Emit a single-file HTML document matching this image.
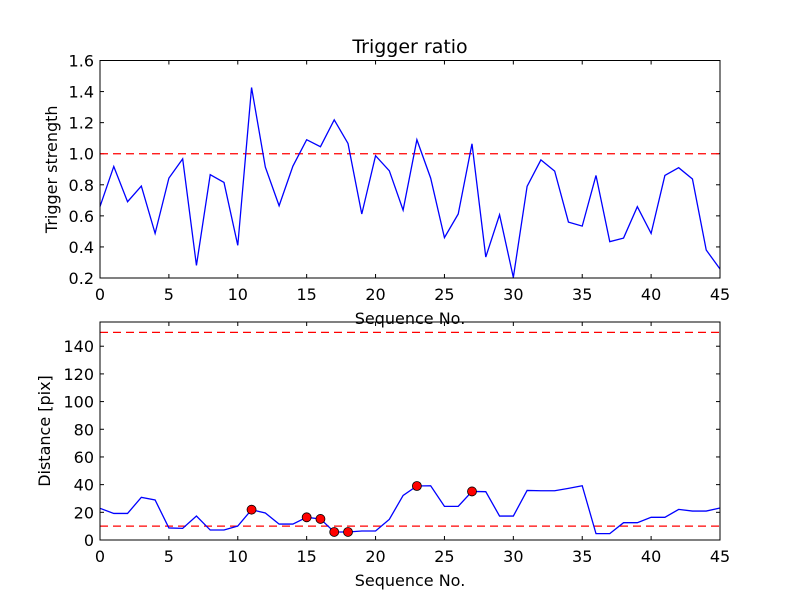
<!DOCTYPE html>
<html><head><meta charset="utf-8"><style>
body{margin:0;background:#fff}
svg{display:block;font-family:"DejaVu Sans","Liberation Sans",sans-serif}
</style></head><body>
<svg id="chart" width="800" height="600" viewBox="0 0 800 600"></svg>
<script>
const xs = [];
for (let i = 0; i <= 45; i++) xs.push(i);
const triggerStrength = [0.66,0.918,0.691,0.792,0.487,0.843,0.967,0.281,0.865,0.815,0.41,1.426,0.914,0.665,0.92,1.09,1.045,1.218,1.066,0.612,0.987,0.89,0.637,1.09,0.843,0.46,0.612,1.064,0.335,0.607,0.204,0.79,0.96,0.888,0.56,0.534,0.86,0.434,0.457,0.659,0.487,0.86,0.91,0.837,0.38,0.258];
const distance = [22.9,19.2,19.2,30.8,28.9,8.7,8.4,17.3,7.2,7.2,10.1,21.9,19.5,11.5,11.5,16.4,15.2,5.8,5.8,6.5,6.5,14.9,32.2,39,39.2,24.3,24.3,35.1,34.9,17.3,17.3,35.8,35.6,35.6,37.3,39.2,4.6,4.6,12.5,12.5,16.4,16.4,22.1,20.9,20.9,23.1];
const markedIdx = [11,15,16,17,18,23,27];
const xTicks = [0,5,10,15,20,25,30,35,40,45];
const topYTicks = [0.2,0.4,0.6,0.8,1.0,1.2,1.4,1.6];
const botYTicks = [0,20,40,60,80,100,120,140];
const topThreshold = [1.0];
const botThresholds = [10,150];

const NS='http://www.w3.org/2000/svg';
const svg=document.getElementById('chart');
function mk(tag,attrs,parent){const e=document.createElementNS(NS,tag);for(const k in attrs)e.setAttribute(k,attrs[k]);(parent||svg).appendChild(e);return e;}
const X0=100,X1=720;
const xS=v=>X0+(v-0)/(45-0)*(X1-X0);

function panel(name,top,bot,ymin,ymax,yTicks,fmt,ylabel){
  const g=mk('g',{});
  
  
  const yS=v=>bot-(v-ymin)/(ymax-ymin)*(bot-top);
  for(const t of xTicks){
    const x=xS(t);
    mk('line',{x1:x,x2:x,y1:bot,y2:bot-4,stroke:'#000','stroke-width':1},g);
    mk('line',{x1:x,x2:x,y1:top,y2:top+4,stroke:'#000','stroke-width':1},g);
    const tx=mk('text',{x:x,y:bot+22,'text-anchor':'middle','font-size':16},g);
    tx.textContent=t;
    
    
  }
  for(const t of yTicks){
    const y=yS(t);
    mk('line',{x1:X0,x2:X0+4,y1:y,y2:y,stroke:'#000','stroke-width':1},g);
    mk('line',{x1:X1,x2:X1-4,y1:y,y2:y,stroke:'#000','stroke-width':1},g);
    const tx=mk('text',{x:X0-6,y:y+6,'text-anchor':'end','font-size':16},g);
    tx.textContent=fmt(t);
    
    
  }
  const yl=mk('text',{x:0,y:0,'text-anchor':'middle','font-size':16,transform:`translate(${ylabel.x},${(top+bot)/2}) rotate(-90)`},g);
  yl.textContent=ylabel.t;
  
  
  const xl=mk('text',{x:(X0+X1)/2,y:bot+46,'text-anchor':'middle','font-size':16},g);
  xl.textContent='Sequence No.';
  
  
  return {g,yS};
}

const P1=panel('trigger-panel',60.5,278,0.2,1.6,topYTicks,v=>v.toFixed(1),{x:57,t:'Trigger strength'});
for(const th of topThreshold){
  const l=mk('line',{x1:X0,x2:X1,y1:P1.yS(th),y2:P1.yS(th),stroke:'#f00','stroke-width':1.3,'stroke-dasharray':'8,5'},P1.g);
  
  
}
const l1=mk('polyline',{points:xs.map((x,i)=>xS(x)+','+P1.yS(triggerStrength[i])).join(' '),fill:'none',stroke:'#00f','stroke-width':1.3},P1.g);


mk('rect',{x:X0,y:60.5,width:X1-X0,height:278-60.5,fill:'none',stroke:'#000','stroke-width':1},P1.g);
const title=mk('text',{x:410,y:53,'text-anchor':'middle','font-size':19});
title.textContent='Trigger ratio';



const P2=panel('distance-panel',322,540,0,157.5,botYTicks,v=>String(v),{x:50,t:'Distance [pix]'});
for(const th of botThresholds){
  const l=mk('line',{x1:X0,x2:X1,y1:P2.yS(th),y2:P2.yS(th),stroke:'#f00','stroke-width':1.3,'stroke-dasharray':'8,5'},P2.g);
  
  
}
const l2=mk('polyline',{points:xs.map((x,i)=>xS(x)+','+P2.yS(distance[i])).join(' '),fill:'none',stroke:'#00f','stroke-width':1.3},P2.g);


for(const i of markedIdx){
  const c=mk('circle',{cx:xS(xs[i]),cy:P2.yS(distance[i]),r:4.5,fill:'#f00',stroke:'#000','stroke-width':0.8},P2.g);
  
  
}
mk('rect',{x:X0,y:322,width:X1-X0,height:540-322,fill:'none',stroke:'#000','stroke-width':1},P2.g);
</script>
</body></html>
